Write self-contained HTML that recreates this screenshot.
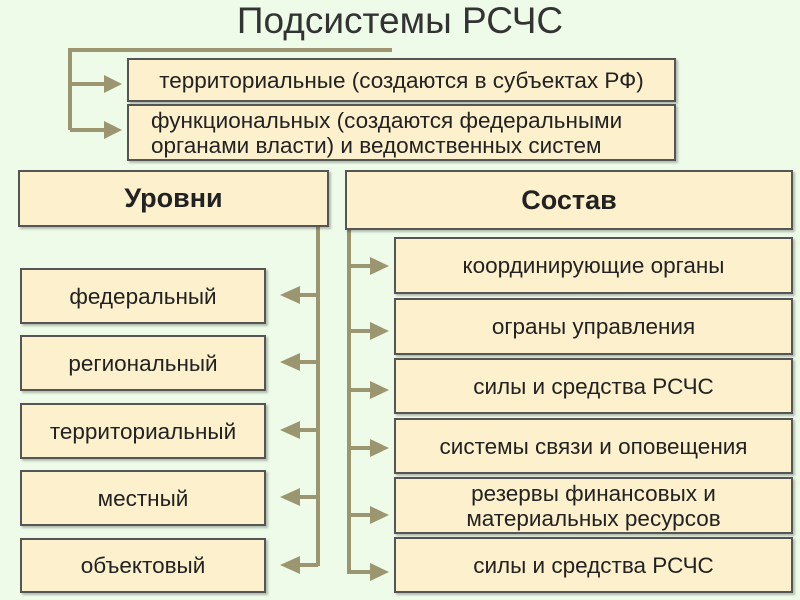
<!DOCTYPE html>
<html><head><meta charset="utf-8"><style>
body{margin:0;width:800px;height:600px;background:#edfbe8;position:relative;overflow:hidden;font-family:"Liberation Sans","DejaVu Sans",sans-serif;color:#222}
.b{position:absolute;background:#fdf0cc;border:2px solid #555;box-sizing:border-box;display:flex;align-items:center;justify-content:center;text-align:center;font-size:22.5px;line-height:25px;box-shadow:2px 2px 2px rgba(0,0,0,.25);white-space:nowrap}
.t{position:absolute;left:0;width:800px;top:0px;text-align:center;font-size:37px;color:#333}
</style></head><body>
<div class="t">Подсистемы РСЧС</div>
<svg width="800" height="600" style="position:absolute;left:0;top:0">
<g stroke="#9b9670" stroke-width="4" fill="none">
<polyline points="392,50 70,50 70,130"/>
<line x1="70" y1="84" x2="108" y2="84"/><line x1="70" y1="130" x2="108" y2="130"/>
<line x1="318" y1="226" x2="318" y2="566"/>
<line x1="349" y1="230" x2="349" y2="574"/>
<line x1="298" y1="295" x2="318" y2="295"/><line x1="298" y1="362" x2="318" y2="362"/><line x1="298" y1="430" x2="318" y2="430"/><line x1="298" y1="497" x2="318" y2="497"/><line x1="298" y1="565" x2="318" y2="565"/>
<line x1="349" y1="266" x2="372" y2="266"/><line x1="349" y1="331" x2="372" y2="331"/><line x1="349" y1="390" x2="372" y2="390"/><line x1="349" y1="448" x2="372" y2="448"/><line x1="349" y1="515" x2="372" y2="515"/><line x1="349" y1="572" x2="372" y2="572"/>
</g>
<g fill="#9b9670">
<polygon points="104,75 122,84 104,93"/><polygon points="104,121 122,130 104,139"/>
<polygon points="300,286 280,295 300,304"/><polygon points="300,353 280,362 300,371"/><polygon points="300,421 280,430 300,439"/><polygon points="300,488 280,497 300,506"/><polygon points="300,556 280,565 300,574"/>
<polygon points="370,257 389,266 370,275"/><polygon points="370,322 389,331 370,340"/><polygon points="370,381 389,390 370,399"/><polygon points="370,439 389,448 370,457"/><polygon points="370,506 389,515 370,524"/><polygon points="370,563 389,572 370,581"/>
</g></svg>
<div class="b" style="left:127px;top:58px;width:549px;height:44px;padding-top:0">территориальные (создаются в субъектах РФ)</div>
<div class="b" style="left:127px;top:104px;width:549px;height:57px;justify-content:flex-start;padding-left:22px;text-align:left">функциональных (создаются федеральными<br>органами власти) и ведомственных систем</div>
<div class="b" style="left:18px;top:170px;width:311px;height:57px;font-weight:bold;font-size:27px">Уровни</div>
<div class="b" style="left:345px;top:170px;width:448px;height:60px;font-weight:bold;font-size:27px">Состав</div>
<div class="b" style="left:20px;top:268px;width:246px;height:56px">федеральный</div>
<div class="b" style="left:20px;top:335px;width:246px;height:56px">региональный</div>
<div class="b" style="left:20px;top:403px;width:246px;height:56px">территориальный</div>
<div class="b" style="left:20px;top:470px;width:246px;height:56px">местный</div>
<div class="b" style="left:20px;top:538px;width:246px;height:55px">объектовый</div>
<div class="b" style="left:394px;top:237px;width:399px;height:57px">координирующие органы</div>
<div class="b" style="left:394px;top:298px;width:399px;height:57px">ограны управления</div>
<div class="b" style="left:394px;top:358px;width:399px;height:56px">силы и средства РСЧС</div>
<div class="b" style="left:394px;top:418px;width:399px;height:56px">системы связи и оповещения</div>
<div class="b" style="left:394px;top:477px;width:399px;height:57px">резервы финансовых и<br>материальных ресурсов</div>
<div class="b" style="left:394px;top:537px;width:399px;height:56px">силы и средства РСЧС</div>
</body></html>
